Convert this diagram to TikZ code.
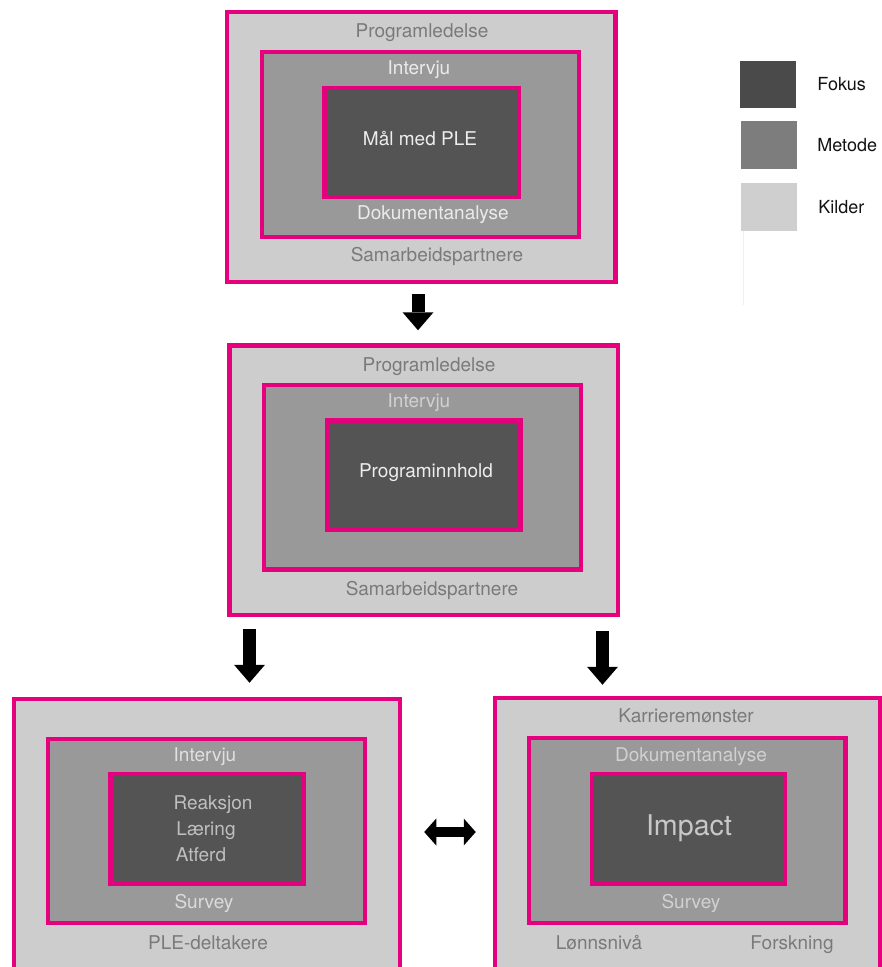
\documentclass[tikz,border=0pt]{standalone}
\usepackage{fontspec}
\setmainfont{TeX Gyre Heros}
\usetikzlibrary{arrows.meta,fit,positioning}
\definecolor{rosa}{HTML}{E5007D}
\definecolor{kildegraa}{HTML}{CDCDCD}
\definecolor{metodegraa}{HTML}{999999}
\definecolor{fokusgraa}{HTML}{545454}
\tikzset{
  ramme/.style={draw=rosa,line width=4.5pt,inner sep=0pt},
  kildeboks/.style={ramme,fill=kildegraa},
  metodeboks/.style={ramme,fill=metodegraa},
  fokusboks/.style={ramme,fill=fokusgraa},
  tekst/.style={font=\fontsize{19}{22}\selectfont,inner sep=0pt,text height=13.7pt,text depth=0pt},
  kildetekst/.style={tekst,text=black!52},
  metodetekst/.style={tekst,text=black!8},
  fokustekst/.style={tekst,text=black!7},
  pil/.style={line width=13pt,-{Triangle[width=31pt,length=18pt,line width=0pt]}},
  dobbelpil/.style={line width=10pt,{Triangle[width=27pt,length=12pt,line width=0pt]}-{Triangle[width=27pt,length=12pt,line width=0pt]}},
  forklaring/.style={font=\fontsize{18}{21}\selectfont,inner sep=0pt,text=black!93}
}
\begin{document}
\begin{tikzpicture}[x=1pt,y=-1pt]
\useasboundingbox (0,0) rectangle (882,967);
\clip (0,0) rectangle (882,967);
% Mål med PLE
\node[kildeboks,fit={(227,12) (615.5,282)}] (progk) {};
\node[metodeboks,fit={(262,52) (579,237)}] (progm) {};
\node[fokusboks,fit={(324.5,88) (519,197)}] (progf) {};
\node[kildetekst] (progk1) at (422,31) {Programledelse};
\node[metodetekst] (progm1) at (419,68) {Intervju};
\node[fokustekst] (progf1) at (420,139) {Mål med PLE};
\node[metodetekst] (progm2) at (433,213) {Dokumentanalyse};
\node[kildetekst] (progk2) at (437,255) {Samarbeidspartnere};
% Programinnhold
\node[kildeboks,fit={(229.5,345.5) (618,615)}] (innhk) {};
\node[metodeboks,fit={(264,385) (581,569.5)}] (innhm) {};
\node[fokusboks,fit={(327,420.5) (520.5,530)}] (innhf) {};
\node[kildetekst] (innhk1) at (429,365) {Programledelse};
\node[metodetekst,text=black!18] (innhm1) at (419,401) {Intervju};
\node[fokustekst] (innhf1) at (426,471) {Programinnhold};
\node[kildetekst] (innhk2) at (432,589) {Samarbeidspartnere};
% PLE-deltakere
\node[kildeboks,fit={(14,699) (400,975)}] (plek) {};
\node[metodeboks,fit={(48,739) (365,923)}] (plem) {};
\node[fokusboks,fit={(110.5,774) (304,884)}] (plef) {};
\node[metodetekst,text=black!12] (plem1) at (205,755) {Intervju};
\node[fokustekst,text=black!25] (plef1) at (213,803) {Reaksjon};
\node[fokustekst,text=black!25] (plef2) at (206,829) {Læring};
\node[fokustekst,text=black!25] (plef3) at (201,855) {Atferd};
\node[metodetekst,text=black!14] (plem2) at (204,902) {Survey};
\node[kildetekst] (plek1) at (208,943) {PLE-deltakere};
% Impact
\node[kildeboks,fit={(495,698) (880,975)}] (impk) {};
\node[metodeboks,fit={(529,738) (845.5,923)}] (impm) {};
\node[fokusboks,fit={(592,774) (785,884)}] (impf) {};
\node[kildetekst] (impk1) at (686,716) {Karrieremønster};
\node[metodetekst,text=black!18] (impm1) at (691,755) {Dokumentanalyse};
\node[fokustekst,text=black!22,font=\fontsize{28.6}{32}\selectfont,text height=20.6pt] (impf1) at (689,825) {Impact};
\node[metodetekst,text=black!18] (impm2) at (691,902) {Survey};
\node[kildetekst] (impk2) at (599,943) {Lønnsnivå};
\node[kildetekst] (impk3) at (792,943) {Forskning};
% piler
\draw[pil,shorten <=10pt,shorten >=13pt] (418,0 |- progk.south) -- (418,0 |- innhk.north);
\draw[pil,shorten <=12pt,shorten >=14pt] (249.5,0 |- innhk.south) -- (249.5,0 |- plek.north);
\draw[pil,shorten <=14pt,shorten >=11pt] (602.5,0 |- innhk.south) -- (602.5,0 |- impk.north);
\draw[dobbelpil,shorten <=22pt,shorten >=17pt] (plek.east |- 0,832) -- (impk.west |- 0,832);
% forklaring
\node[fill=black!71,inner sep=0pt,fit={(740,61) (796,108)}] (fokusfelt) {};
\node[fill=black!51,inner sep=0pt,fit={(741,121) (797,169)}] (metodefelt) {};
\node[fill=black!19,inner sep=0pt,fit={(741,183) (797,231)}] (kildefelt) {};
\node[forklaring,right=21pt of fokusfelt] (fokus) {Fokus};
\node[forklaring,right=20pt of metodefelt] (metode) {Metode};
\node[forklaring,right=21pt of kildefelt] (kilder) {Kilder};
\draw[black!6] ([xshift=2pt]kildefelt.south west) -- ++(0,74);
\end{tikzpicture}
\end{document}
